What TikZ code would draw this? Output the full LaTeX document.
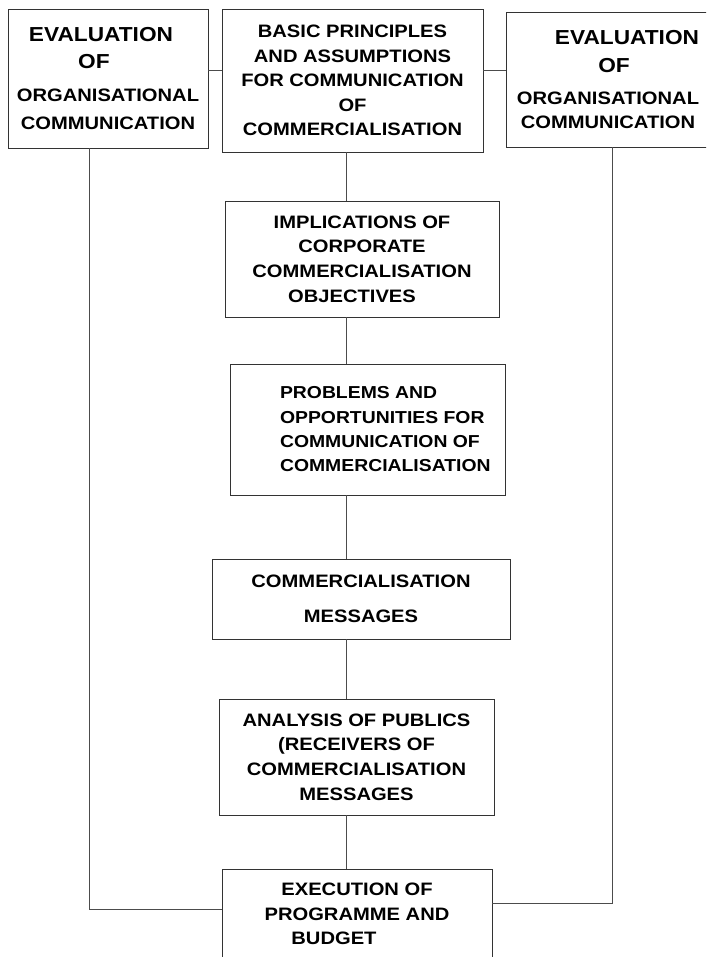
\documentclass[tikz,border=0pt]{standalone}
\usepackage{fontspec}
\newfontfamily\chartfont{Liberation Sans}[FakeStretch=1.12]

\begin{document}
\begin{tikzpicture}[x=0.025cm, y=-0.025cm,
  box/.style={rectangle, draw=black!80, line width=0.55pt, inner sep=0pt, align=center,
              font=\chartfont\bfseries\fontsize{12.8}{17.5}\selectfont},
  big/.style={font=\chartfont\bfseries\fontsize{14.4}{17.5}\selectfont},
  link/.style={draw=black!70, line width=0.55pt}
]
  \clip (0,0) rectangle (706,957);

  % top row
  \node[box, minimum width=5cm, minimum height=3.475cm] (evalL) at (108,78.5)
    {{\fontsize{14.4}{17.5}\selectfont\hspace*{-0.35cm}EVALUATION}\\[1.7pt]
     {\fontsize{14.4}{17.5}\selectfont\hspace*{-0.7cm}OF}\\[6pt]
     ORGANISATIONAL\\[2.5pt]
     COMMUNICATION};
  \node[box, minimum width=6.525cm, minimum height=3.575cm] (basic) at (352.5,80.5)
    {BASIC PRINCIPLES\\ AND ASSUMPTIONS\\ FOR COMMUNICATION\\ OF\\ COMMERCIALISATION};
  \node[box, minimum width=5.1cm, minimum height=3.375cm] (evalR) at (608,79.5)
    {{\fontsize{14.4}{17.5}\selectfont\hspace*{0.95cm}EVALUATION}\\[2.5pt]
     {\fontsize{14.4}{17.5}\selectfont\hspace*{0.3cm}OF}\\[5.3pt]
     ORGANISATIONAL\\[-1pt]
     COMMUNICATION};

  % middle column
  \node[box, minimum width=6.85cm, minimum height=2.9cm] (impl) at (362,259)
    {IMPLICATIONS OF\\ CORPORATE\\ COMMERCIALISATION\\ \hspace*{-0.5cm}OBJECTIVES};
  \node[box, align=left, minimum width=6.875cm, minimum height=3.275cm,
        font=\chartfont\bfseries\fontsize{12.3}{17.3}\selectfont] (prob) at (367.5,429.5)
    {\hspace*{0.89cm}PROBLEMS AND\\ \hspace*{0.89cm}OPPORTUNITIES FOR\\
     \hspace*{0.89cm}COMMUNICATION OF\\ \hspace*{0.89cm}COMMERCIALISATION};
  \node[box, minimum width=7.45cm, minimum height=2cm] (msg) at (361,599)
    {COMMERCIALISATION\\[7pt] MESSAGES};
  \node[box, minimum width=6.875cm, minimum height=2.9cm] (publics) at (356.5,757)
    {ANALYSIS OF PUBLICS\\ (RECEIVERS OF\\ COMMERCIALISATION\\ MESSAGES};
  \node[box, minimum width=6.75cm, minimum height=2.25cm] (exec) at (357,914)
    {EXECUTION OF\\ PROGRAMME AND\\ \hspace*{-1.15cm}BUDGET};

  % connectors
  \coordinate (toplink) at (0,70);
  \coordinate (spine) at (346,0);
  \coordinate (fbL) at (89,909);
  \coordinate (fbR) at (612,903);

  \draw[link] (evalL.east |- toplink) -- (basic.west |- toplink);
  \draw[link] (basic.east |- toplink) -- (evalR.west |- toplink);

  \foreach \a/\b in {basic/impl, impl/prob, prob/msg, msg/publics, publics/exec}
    \draw[link] (\a.south -| spine) -- (\b.north -| spine);

  \draw[link] (evalL.south -| fbL) -- (fbL) -- (exec.west |- fbL);
  \draw[link] (evalR.south -| fbR) -- (fbR) -- (exec.east |- fbR);
\end{tikzpicture}
\end{document}
